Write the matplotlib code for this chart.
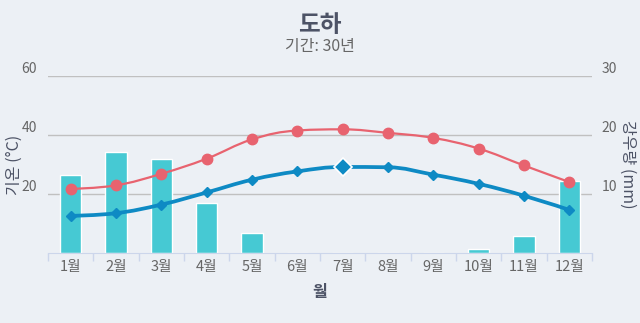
import matplotlib
matplotlib.use('Agg')
import matplotlib.pyplot as plt
from matplotlib.path import Path
from matplotlib.patches import PathPatch

plt.rcParams['font.family'] = ['Noto Sans CJK KR', 'DejaVu Sans']

# Data
months = ['1월', '2월', '3월', '4월', '5월', '6월', '7월', '8월', '9월', '10월', '11월', '12월']
temp_max = [21.8, 23.0, 26.9, 32.0, 38.5, 41.5, 41.9, 40.7, 39.0, 35.4, 29.7, 24.1]
temp_min = [12.7, 13.6, 16.5, 20.6, 24.9, 27.7, 29.2, 29.1, 26.6, 23.5, 19.5, 14.7]
rain = [13.3, 17.1, 16.0, 8.5, 3.5, 0, 0, 0, 0, 0.8, 3.0, 12.2]
left_ticks = [20, 40, 60]
right_ticks = [10, 20, 30]

BG = '#ecf0f5'
RED = '#e8636f'
BLUE = '#0e8ac4'
BAR = '#46c9d3'
TXT = '#666666'
DARK = '#4d5366'


def spline_path(xs, ys):
    # smooth curve in the style of a Highcharts spline
    sm, den = 1.5, 2.5
    n = len(xs)
    lc = [(xs[i], ys[i]) for i in range(n)]
    rc = [(xs[i], ys[i]) for i in range(n)]
    for i in range(1, n - 1):
        x, y = xs[i], ys[i]
        lx = (sm * x + xs[i - 1]) / den
        ly = (sm * y + ys[i - 1]) / den
        rx = (sm * x + xs[i + 1]) / den
        ry = (sm * y + ys[i + 1]) / den
        corr = (ry - ly) * (rx - x) / (rx - lx) + y - ry
        ly += corr
        ry += corr
        hi, lo = max(ys[i - 1], y), min(ys[i - 1], y)
        if ly > hi:
            ly = hi
            ry = 2 * y - ly
        elif ly < lo:
            ly = lo
            ry = 2 * y - ly
        hi, lo = max(ys[i + 1], y), min(ys[i + 1], y)
        if ry > hi:
            ry = hi
            ly = 2 * y - ry
        elif ry < lo:
            ry = lo
            ly = 2 * y - ry
        lc[i] = (lx, ly)
        rc[i] = (rx, ry)
    verts = [(xs[0], ys[0])]
    codes = [Path.MOVETO]
    for i in range(1, n):
        verts += [rc[i - 1], lc[i], (xs[i], ys[i])]
        codes += [Path.CURVE4] * 3
    return Path(verts, codes)


fig = plt.figure(figsize=(6.4, 3.23), dpi=100, facecolor=BG)
ax = fig.add_axes([0.075, 0.2152, 0.85, 0.5504])
axr = ax.twinx()

x = list(range(len(months)))

# rain bars on the right axis, below the lines
axr.bar(x, rain, width=0.47, color=BAR, edgecolor='white', linewidth=1, zorder=2)
axr.set_ylim(0, 30)
axr.set_yticks(right_ticks)
axr.grid(axis='y', color='#c0c0c0', linewidth=1)
axr.set_axisbelow(True)
axr.patch.set_visible(False)

ax.set_zorder(axr.get_zorder() + 1)
ax.patch.set_visible(False)
ax.set_ylim(0, 60)
ax.set_xlim(-0.5, 11.5)
ax.set_yticks(left_ticks)

ax.add_patch(PathPatch(spline_path(x, temp_max), facecolor='none', edgecolor=RED, linewidth=1.6, zorder=3))
ax.plot(x, temp_max, linestyle='none', marker='o', markersize=7.5, color=RED, zorder=4)
ax.add_patch(PathPatch(spline_path(x, temp_min), facecolor='none', edgecolor=BLUE, linewidth=2.7, zorder=3))
ax.plot(x, temp_min, linestyle='none', marker='D', markersize=5.5, color=BLUE, zorder=4)
# highlighted point (hover state in the original)
ax.plot(x[6], temp_min[6], linestyle='none', marker='D', markersize=9, color=BLUE,
        markeredgecolor='white', markeredgewidth=1.2, zorder=5)

for a in (ax, axr):
    for s in a.spines.values():
        s.set_visible(False)
ax.spines['bottom'].set_visible(True)
ax.spines['bottom'].set_color('#ccd6eb')

ax.set_xticks(x)
ax.set_xticklabels(months)
ax.set_xticks([i + 0.5 for i in range(-1, 12)], minor=True)
ax.tick_params(axis='x', which='major', length=0, pad=5, labelsize=10.5, labelcolor=TXT)
ax.tick_params(axis='x', which='minor', length=6, color='#ccd6eb', width=1)
ax.tick_params(axis='y', length=0, pad=8, labelsize=10, labelcolor=TXT)
axr.tick_params(axis='y', length=0, pad=7, labelsize=10, labelcolor=TXT)
for lab in ax.get_yticklabels() + axr.get_yticklabels():
    lab.set_verticalalignment('bottom')

ax.set_xlabel('월', fontsize=11.5, fontweight='bold', color=DARK, labelpad=7)
ax.set_ylabel('기온 (°C)', fontsize=11.5, color=DARK, labelpad=-1)
axr.set_ylabel('강우량 (mm)', fontsize=11.5, color=DARK, rotation=-90, labelpad=14)

fig.text(0.5, 1 - 25 / 323, '도하', ha='center', va='center', fontsize=17, fontweight='bold', color=DARK)
fig.text(0.5, 1 - 47 / 323, '기간: 30년', ha='center', va='center', fontsize=11.5, color=TXT)

fig.savefig('out.png', dpi=100, facecolor=BG)
